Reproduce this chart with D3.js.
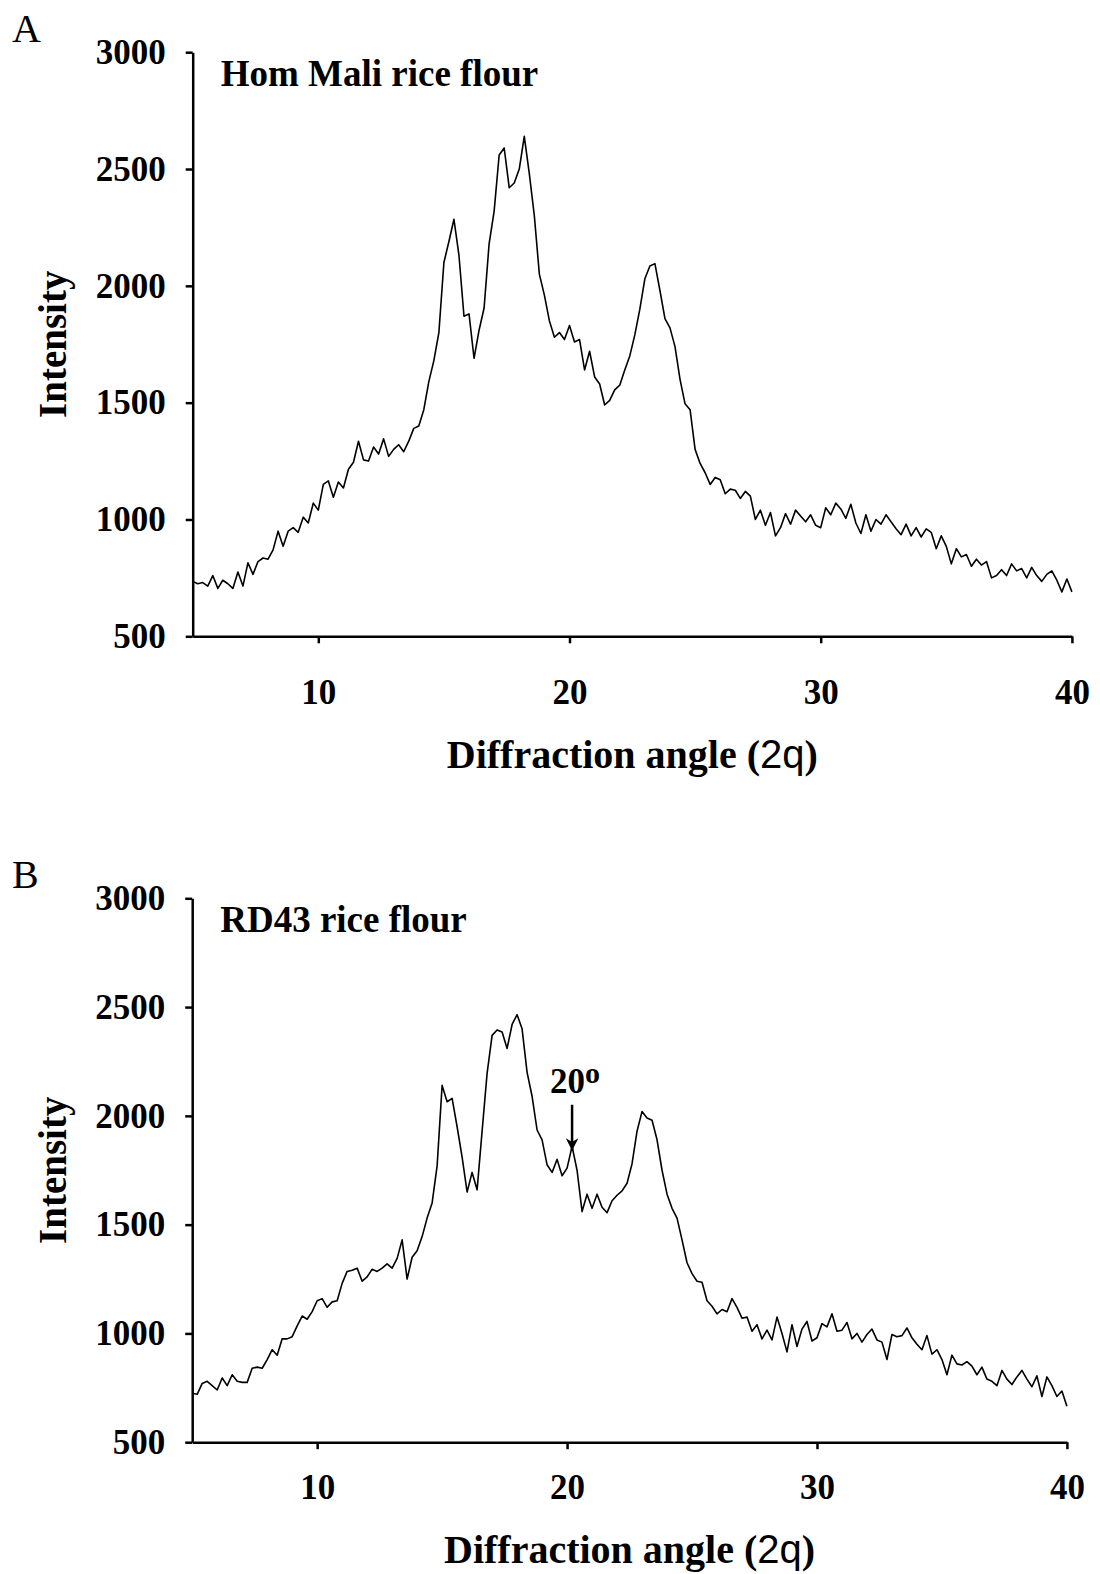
<!DOCTYPE html>
<html>
<head>
<meta charset="utf-8">
<script src="https://cdn.jsdelivr.net/npm/d3@7"></script>
<style>
  body { margin: 0; background: #fff; }
  svg text { font-family: "Liberation Serif", "Times New Roman", serif; fill: #000; }
</style>
</head>
<body>
<div id="chart"></div>
<script>
// scan settings (2-theta, degrees)
const scanStart = 5;
const scanStep = 0.2;

const angleTicks = [10, 20, 30, 40];
const intensityTicks = [500, 1000, 1500, 2000, 2500, 3000];

const panelLetters = ["A", "B"];
const sampleNames = ["Hom Mali rice flour", "RD43 rice flour"];

// intensities, 5.0 to 40.0 deg every 0.2 deg
const homMaliIntensity = [
  735, 725, 730, 715, 760, 705, 740, 725, 705, 775,
  715, 815, 765, 820, 835, 830, 870, 950, 885, 950,
  965, 945, 1010, 985, 1070, 1040, 1150, 1165, 1095, 1160,
  1135, 1215, 1245, 1335, 1255, 1250, 1310, 1280, 1345, 1270,
  1300, 1320, 1290, 1335, 1390, 1400, 1470, 1590, 1680, 1800,
  2100, 2190, 2285, 2130, 1870, 1880, 1690, 1810, 1905, 2180,
  2320, 2560, 2590, 2420, 2440, 2500, 2640, 2480, 2300, 2050,
  1960, 1850, 1780, 1800, 1770, 1830, 1760, 1770, 1640, 1720,
  1610, 1580, 1490, 1510, 1555, 1575, 1640, 1700, 1790, 1900,
  2030, 2085, 2095, 1980, 1860, 1820, 1740, 1600, 1495, 1470,
  1300, 1240, 1200, 1150, 1180, 1170, 1110, 1130, 1125, 1090,
  1120, 1100, 1000, 1040, 975, 1030, 930, 965, 1025, 980,
  1040, 1015, 990, 1020, 975, 965, 1050, 1020, 1070, 1045,
  1005, 1065, 985, 940, 1020, 950, 1000, 980, 1020, 990,
  960, 935, 980, 930, 965, 925, 960, 945, 875, 930,
  885, 810, 875, 840, 850, 800, 830, 805, 820, 750,
  760, 785, 760, 810, 780, 790, 750, 795, 760, 735,
  765, 780, 740, 690, 745, 690
];

const rd43Intensity = [
  725, 720, 770, 780, 760, 740, 795, 760, 810, 780,
  775, 775, 840, 845, 840, 880, 925, 900, 975, 975,
  985, 1035, 1080, 1065, 1100, 1150, 1160, 1120, 1145, 1150,
  1230, 1285, 1290, 1300, 1240, 1260, 1295, 1285, 1300, 1320,
  1300, 1345, 1430, 1250, 1350, 1380, 1445, 1530, 1600, 1770,
  2140, 2065, 2080, 1950, 1810, 1650, 1740, 1660, 1930, 2195,
  2370, 2395, 2385, 2310, 2420, 2465, 2400, 2200, 2090, 1935,
  1890, 1775, 1740, 1800, 1725, 1760, 1860, 1750, 1560, 1640,
  1575, 1640, 1580, 1555, 1610, 1635, 1655, 1690, 1780, 1930,
  2020, 1990, 1980, 1890, 1750, 1640, 1575, 1530, 1430, 1325,
  1275, 1240, 1235, 1150, 1125, 1090, 1110, 1100, 1160, 1120,
  1070, 1075, 1010, 1040, 975, 1015, 970, 1075, 1000, 915,
  1040, 940, 1020, 1055, 965, 980, 1045, 1030, 1090, 1010,
  1015, 1050, 975, 1000, 960, 995, 1020, 970, 960, 880,
  995, 985, 990, 1025, 980, 950, 925, 990, 905, 925,
  880, 810, 900, 860, 855, 870, 850, 810, 845, 790,
  780, 760, 830, 790, 765, 800, 830, 790, 755, 805,
  710, 800, 760, 710, 735, 665
];

// arrow marking the 20 deg reflection in panel B
const markAngle = 20.2;
const markIntensity = 1858;

const width = 1100, height = 1574;

const svg = d3.select("#chart")
  .append("svg")
  .attr("width", width)
  .attr("height", height);

// panel boxes: plot area in page pixels
const panels = [
  { left: 192.7, right: 1071.9, top: 52.2, bottom: 636.3, data: homMaliIntensity, xPad: 36, xTitleGap: 132 },
  { left: 192.2, right: 1066.9, top: 898.3, bottom: 1442.2, data: rd43Intensity, xPad: 25, xTitleGap: 121 }
];

function drawPanel(p, i) {
  const angles = p.data.map(function (d, k) {
    return +(scanStart + k * scanStep).toFixed(1);
  });

  const x = d3.scaleLinear().domain([5, 40]).range([p.left, p.right]);
  const y = d3.scaleLinear().domain([500, 3000]).range([p.bottom, p.top]);

  const g = svg.append("g");

  // y axis
  const yAxis = g.append("g")
    .attr("transform", "translate(" + p.left + ",0)")
    .call(d3.axisLeft(y).tickValues(intensityTicks).tickFormat(d3.format("d"))
      .tickSize(7).tickSizeOuter(0).tickPadding(20));

  // x axis
  const xAxis = g.append("g")
    .attr("transform", "translate(0," + p.bottom + ")")
    .call(d3.axisBottom(x).tickValues(angleTicks).tickFormat(d3.format("d"))
      .tickSize(7).tickSizeOuter(0).tickPadding(p.xPad));

  [yAxis, xAxis].forEach(function (ax) {
    ax.select(".domain").attr("stroke", "#000").attr("stroke-width", 2.5);
    ax.selectAll(".tick line").attr("stroke", "#000").attr("stroke-width", 2.5);
    ax.selectAll(".tick text")
      .style("font-family", "'Liberation Serif', 'Times New Roman', serif")
      .style("font-size", "35px")
      .style("font-weight", "bold")
      .attr("fill", "#000");
  });

  // the scan
  const line = d3.line()
    .x(function (d, k) { return x(angles[k]); })
    .y(function (d) { return y(d); });

  g.append("path")
    .datum(p.data)
    .attr("fill", "none")
    .attr("stroke", "#000")
    .attr("stroke-width", 1.6)
    .attr("stroke-linejoin", "round")
    .attr("d", line);

  // panel letter
  g.append("text")
    .attr("x", 12)
    .attr("y", p.top - 10)
    .style("font-size", "40px")
    .text(panelLetters[i]);

  // sample name
  g.append("text")
    .attr("x", p.left + 28)
    .attr("y", p.top + 34)
    .style("font-size", "37px")
    .style("font-weight", "bold")
    .text(sampleNames[i]);

  // x title
  const xt = g.append("text")
    .attr("x", (p.left + p.right) / 2)
    .attr("y", p.bottom + p.xTitleGap)
    .attr("text-anchor", "middle")
    .style("font-size", "40px")
    .style("font-weight", "bold");
  xt.append("tspan").text("Diffraction angle (");
  xt.append("tspan")
    .style("font-family", "'Liberation Sans', Arial, sans-serif")
    .style("font-weight", "normal")
    .text("2q");
  xt.append("tspan").text(")");

  // y title
  g.append("text")
    .attr("transform", "translate(66," + (p.top + p.bottom) / 2 + ") rotate(-90)")
    .attr("text-anchor", "middle")
    .style("font-size", "39px")
    .style("font-weight", "bold")
    .text("Intensity");

  return { x: x, y: y, g: g };
}

const drawn = panels.map(drawPanel);

// 20 deg annotation on panel B
const b = drawn[1];
const ax = b.x(markAngle);
const tipY = b.y(markIntensity) + 4;

svg.append("defs").append("marker")
  .attr("id", "arrowHead")
  .attr("viewBox", "0 0 10 10")
  .attr("refX", 10)
  .attr("refY", 5)
  .attr("markerWidth", 5)
  .attr("markerHeight", 5)
  .attr("markerUnits", "strokeWidth")
  .attr("orient", "auto")
  .append("path")
  .attr("d", "M0,0 L10,5 L0,10 L3,5 Z")
  .attr("fill", "#000");

b.g.append("line")
  .attr("x1", ax)
  .attr("x2", ax)
  .attr("y1", tipY - 46)
  .attr("y2", tipY)
  .attr("stroke", "#000")
  .attr("stroke-width", 2.5)
  .attr("marker-end", "url(#arrowHead)");

const mt = b.g.append("text")
  .attr("x", ax - 22)
  .attr("y", tipY - 58)
  .style("font-size", "35px")
  .style("font-weight", "bold");
mt.append("tspan").text("20");
mt.append("tspan")
  .attr("dy", -10)
  .style("font-size", "30px")
  .text("o");
</script>
</body>
</html>
